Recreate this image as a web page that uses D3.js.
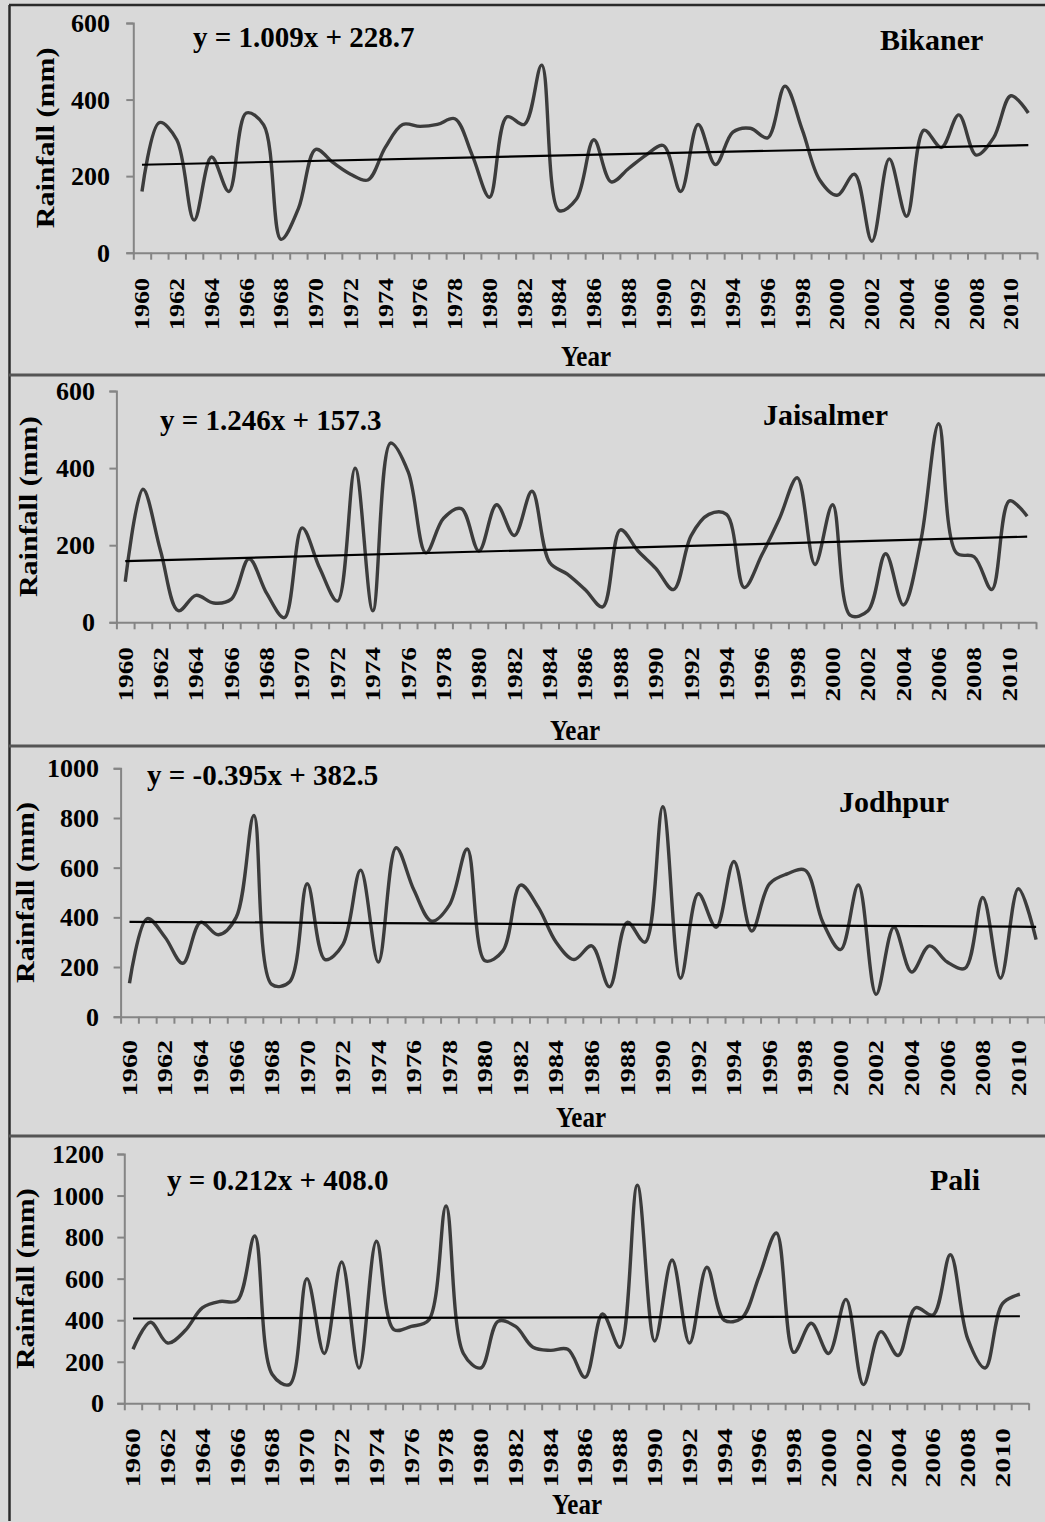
<!DOCTYPE html>
<html><head><meta charset="utf-8">
<script src="https://cdn.jsdelivr.net/npm/d3@7"></script>
<style>html,body{margin:0;padding:0;background:#d9d9d9;} svg{display:block;}
text{font-family:"Liberation Serif","Times New Roman",serif;font-weight:bold;fill:#000;}</style>
</head><body><svg id="c" width="1045" height="1522"></svg>
<script>
const years = [1960,1961,1962,1963,1964,1965,1966,1967,1968,1969,1970,1971,1972,1973,1974,1975,1976,1977,1978,1979,
  1980,1981,1982,1983,1984,1985,1986,1987,1988,1989,1990,1991,1992,1993,1994,1995,1996,1997,1998,1999,
  2000,2001,2002,2003,2004,2005,2006,2007,2008,2009,2010,2011];
const yearLabels = [1960,1962,1964,1966,1968,1970,1972,1974,1976,1978,1980,1982,1984,1986,1988,1990,1992,1994,1996,1998,2000,2002,2004,2006,2008,2010];

const bikaner = [160,340,295,85,250,160,365,334,35,115,270,235,205,190,275,335,330,335,350,255,
  145,355,335,490,110,140,295,185,220,255,280,160,335,230,315,325,300,435,320,190,
  150,205,30,245,95,320,275,360,255,300,410,365];
const jaisalmer = [105,345,185,30,70,50,60,165,75,12,245,140,55,400,30,465,390,180,270,295,
  185,305,225,340,155,125,85,40,240,185,140,85,225,280,280,90,175,270,375,150,
  305,18,30,178,45,215,515,180,170,85,315,275];
const jodhpur = [135,395,320,215,380,330,400,810,130,140,535,230,290,590,220,680,510,385,450,675,
  225,265,530,440,300,230,285,120,380,300,845,155,495,360,625,345,535,575,590,380,
  270,530,90,360,180,285,220,195,480,155,515,310];
const pali = [260,390,290,350,460,490,495,805,140,90,600,240,680,170,780,355,370,400,950,240,
  170,395,370,270,255,260,125,430,270,1050,300,690,290,655,400,410,610,820,245,385,
  240,500,90,345,230,460,425,715,310,170,480,525];

const stations = ["Bikaner","Jaisalmer","Jodhpur","Pali"];
const seriesList = [bikaner, jaisalmer, jodhpur, pali];
const equations = ["y = 1.009x + 228.7","y = 1.246x + 157.3","y = -0.395x + 382.5","y = 0.212x + 408.0"];
const slopes = [1.009, 1.246, -0.395, 0.212];
const intercepts = [228.7, 157.3, 382.5, 408.0];
const yMaxes = [600, 600, 1000, 1200];
const yTicks = [[0,200,400,600],[0,200,400,600],[0,200,400,600,800,1000],[0,200,400,600,800,1000,1200]];

// layout (positions only)
const layout = [
  {left:133.3,right:1037,top:23,bottom:252.7,tlr:110,labTop:278,along:1.24,yearY:366,yearX:586,ytX:45,eqX:193,eqY:47,stX:880,stY:50},
  {left:116.4,right:1036,top:391,bottom:622.3,tlr:95,labTop:647,along:1.3,yearY:740,yearX:575,ytX:28,eqX:160,eqY:430,stX:763,stY:425},
  {left:120.6,right:1045,top:768.3,bottom:1016.7,tlr:99,labTop:1040,along:1.34,yearY:1127,yearX:581,ytX:25,eqX:147,eqY:785,stX:839,stY:812},
  {left:124.3,right:1028.6,top:1154,bottom:1403.3,tlr:104,labTop:1428,along:1.42,yearY:1514,yearX:577,ytX:25,eqX:167,eqY:1190,stX:930,stY:1190}
];

const svg = d3.select("#c");
svg.append("rect").attr("width",1045).attr("height",1522).attr("fill","#d9d9d9");

stations.forEach((st, p) => {
  const L = layout[p];
  const data = seriesList[p];
  const g = svg.append("g");
  const x = d3.scaleLinear().domain([years[0]-0.5, years[years.length-1]+0.5]).range([L.left, L.right]);
  const y = d3.scaleLinear().domain([0, yMaxes[p]]).range([L.bottom, L.top]);

  // y axis
  const ya = g.append("g").attr("transform",`translate(${L.left},0)`)
    .call(d3.axisLeft(y).tickValues(yTicks[p]).tickSize(7).tickFormat(""));
  ya.selectAll("path,line").attr("stroke","#858585").attr("stroke-width",2);
  // x axis ticks at category boundaries
  const bounds = years.map(v => v-0.5).concat([years[years.length-1]+0.5]);
  const xa = g.append("g").attr("transform",`translate(0,${L.bottom})`)
    .call(d3.axisBottom(x).tickValues(bounds).tickSize(7).tickSizeOuter(0).tickFormat(""));
  xa.selectAll("path,line").attr("stroke","#858585").attr("stroke-width",2);

  // y tick labels
  g.selectAll(".yl").data(yTicks[p]).enter().append("text")
    .attr("x", L.tlr).attr("y", d => y(d)).attr("dy","0.35em")
    .attr("text-anchor","end").style("font-size","26px").text(d => d);

  // x tick labels (rotated)
  g.selectAll(".xl").data(yearLabels).enter().append("text")
    .attr("transform", d => `translate(${x(d)},${L.labTop}) rotate(-90) scale(${L.along},1)`)
    .attr("dy","0.35em").attr("text-anchor","end").style("font-size","21px").text(d => d);

  // axis titles
  g.append("text").attr("transform",`translate(${L.ytX},${(L.top+L.bottom)/2}) rotate(-90) scale(1.2,1)`)
    .attr("dy","0.35em").attr("text-anchor","middle").style("font-size","25px").text("Rainfall (mm)");
  g.append("text").attr("transform",`translate(${L.yearX},${L.yearY}) scale(1,1.15)`)
    .attr("text-anchor","middle").style("font-size","25px").text("Year");

  // data curve
  const line = d3.line().x((d,i) => x(years[i])).y(d => y(d)).curve(d3.curveCatmullRom.alpha(0.5));
  g.append("path").datum(data).attr("d", line).attr("fill","none")
    .attr("stroke","#3c3c3c").attr("stroke-width",3.4).attr("stroke-linejoin","round");

  // trend line
  const trend = [1, years.length].map(k => ({yr: years[k-1], v: slopes[p]*k + intercepts[p]}));
  g.append("path").datum(trend)
    .attr("d", d3.line().x(d => x(d.yr)).y(d => y(d.v)))
    .attr("stroke","#000").attr("stroke-width",2.2).attr("fill","none");

  // equation and station name
  g.append("text").attr("x",L.eqX).attr("y",L.eqY).style("font-size","29px").text(equations[p]);
  g.append("text").attr("x",L.stX).attr("y",L.stY).style("font-size","30px").text(st);
});

// frame
const frame = svg.append("g").attr("stroke","#2a2a2a").attr("stroke-width",2.5);
frame.append("line").attr("x1",9.5).attr("x2",9.5).attr("y1",5).attr("y2",1521);
frame.append("line").attr("x1",9).attr("x2",1045).attr("y1",5).attr("y2",5);
[375, 746, 1136].forEach(v => frame.append("line").attr("x1",9).attr("x2",1045).attr("y1",v).attr("y2",v).attr("stroke","#555").attr("stroke-width",3));
</script></body></html>
